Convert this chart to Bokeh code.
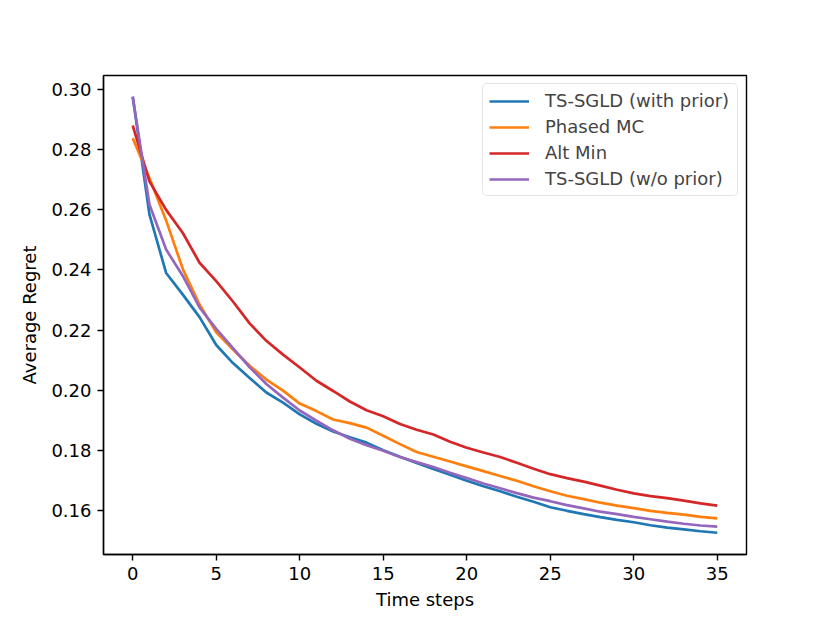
from bokeh.plotting import figure
from bokeh.models import Range1d, FixedTicker, PrintfTickFormatter, Legend, LegendItem
from bokeh.embed import file_html
from bokeh.resources import INLINE

steps = list(range(36))
ts_sgld_prior = [0.2977, 0.2585, 0.2390, 0.2318, 0.2243, 0.2150, 0.2090, 0.2040, 0.1992, 0.1958,
                 0.1919, 0.1888, 0.1862, 0.1843, 0.1825, 0.1800, 0.1778, 0.1757, 0.1737, 0.1718,
                 0.1698, 0.1680, 0.1663, 0.1645, 0.1628, 0.1610, 0.1598, 0.1587, 0.1577, 0.1568,
                 0.1560, 0.1550, 0.1542, 0.1536, 0.1530, 0.1525]
phased_mc = [0.2839, 0.2706, 0.2565, 0.2403, 0.2285, 0.2192, 0.2135, 0.2081, 0.2035, 0.1998,
             0.1955, 0.1930, 0.1902, 0.1890, 0.1875, 0.1848, 0.1820, 0.1794, 0.1778, 0.1762,
             0.1746, 0.1730, 0.1714, 0.1698, 0.1680, 0.1663, 0.1648, 0.1637, 0.1625, 0.1615,
             0.1607, 0.1598, 0.1591, 0.1585, 0.1578, 0.1573]
alt_min = [0.2881, 0.2695, 0.2600, 0.2523, 0.2424, 0.2363, 0.2295, 0.2222, 0.2164, 0.2118,
           0.2075, 0.2031, 0.1997, 0.1962, 0.1933, 0.1913, 0.1887, 0.1868, 0.1852, 0.1828,
           0.1808, 0.1792, 0.1777, 0.1758, 0.1738, 0.1720, 0.1707, 0.1695, 0.1682, 0.1668,
           0.1656, 0.1647, 0.1640, 0.1632, 0.1623, 0.1615]
ts_sgld_noprior = [0.2977, 0.2618, 0.2468, 0.2380, 0.2275, 0.2204, 0.2140, 0.2076, 0.2020, 0.1975,
                   0.1932, 0.1898, 0.1866, 0.1838, 0.1816, 0.1798, 0.1777, 0.1760, 0.1744, 0.1725,
                   0.1707, 0.1689, 0.1673, 0.1657, 0.1642, 0.1630, 0.1617, 0.1606, 0.1595, 0.1587,
                   0.1578, 0.1570, 0.1562, 0.1555, 0.1549, 0.1545]

series_names = ["TS-SGLD (with prior)", "Phased MC", "Alt Min", "TS-SGLD (w/o prior)"]
series_values = [ts_sgld_prior, phased_mc, alt_min, ts_sgld_noprior]
colors = ["#1f77b4", "#ff7f0e", "#d62728", "#9467bd"]
x_ticks = [0, 5, 10, 15, 20, 25, 30, 35]
y_ticks = [0.16, 0.18, 0.20, 0.22, 0.24, 0.26, 0.28, 0.30]

FONT = "DejaVu Sans"

p = figure(width=814, height=615, output_backend="svg", toolbar_location=None,
           x_range=Range1d(-1.75, 36.75), y_range=Range1d(0.14525, 0.30475),
           min_border_left=103, min_border_right=68, min_border_top=75, min_border_bottom=61)

p.xgrid.visible = False
p.ygrid.visible = False
p.outline_line_color = "black"
p.outline_line_width = 1.4
p.background_fill_color = "white"
p.border_fill_color = "white"

for ax in (p.xaxis[0], p.yaxis[0]):
    ax.major_tick_out = 6
    ax.major_tick_in = 0
    ax.minor_tick_out = 0
    ax.minor_tick_in = 0
    ax.major_tick_line_color = "black"
    ax.major_tick_line_width = 1.4
    ax.axis_line_color = "black"
    ax.axis_line_width = 1.4
    ax.major_label_text_font = FONT
    ax.major_label_text_font_size = "18px"
    ax.major_label_text_color = "black"
    ax.axis_label_text_font = FONT
    ax.axis_label_text_font_size = "18px"
    ax.axis_label_text_font_style = "normal"
    ax.axis_label_text_color = "black"
    ax.major_label_standoff = 6

p.xaxis.ticker = FixedTicker(ticks=x_ticks)
p.yaxis.ticker = FixedTicker(ticks=y_ticks)
p.yaxis.formatter = PrintfTickFormatter(format="%.2f")
p.xaxis.axis_label = "Time steps"
p.yaxis.axis_label = "Average Regret"
p.xaxis.axis_label_standoff = 6
p.yaxis.axis_label_standoff = 8

items = []
for name, vals, c in zip(series_names, series_values, colors):
    r = p.line(steps, vals, line_color=c, line_width=2.7)
    items.append(LegendItem(label=name, renderers=[r]))

legend = Legend(items=items, location="top_right")
legend.label_text_font = FONT
legend.label_text_font_size = "18px"
legend.glyph_width = 40
legend.glyph_height = 18
legend.label_height = 18
legend.label_width = 186
legend.label_standoff = 16
legend.spacing = 5
legend.padding = 6
legend.margin = 8
legend.border_line_color = "#cccccc"
legend.border_line_width = 1.4
legend.border_radius = 5
legend.background_fill_alpha = 0.8
p.add_layout(legend)

open("out.html", "w").write(file_html(p, INLINE))
